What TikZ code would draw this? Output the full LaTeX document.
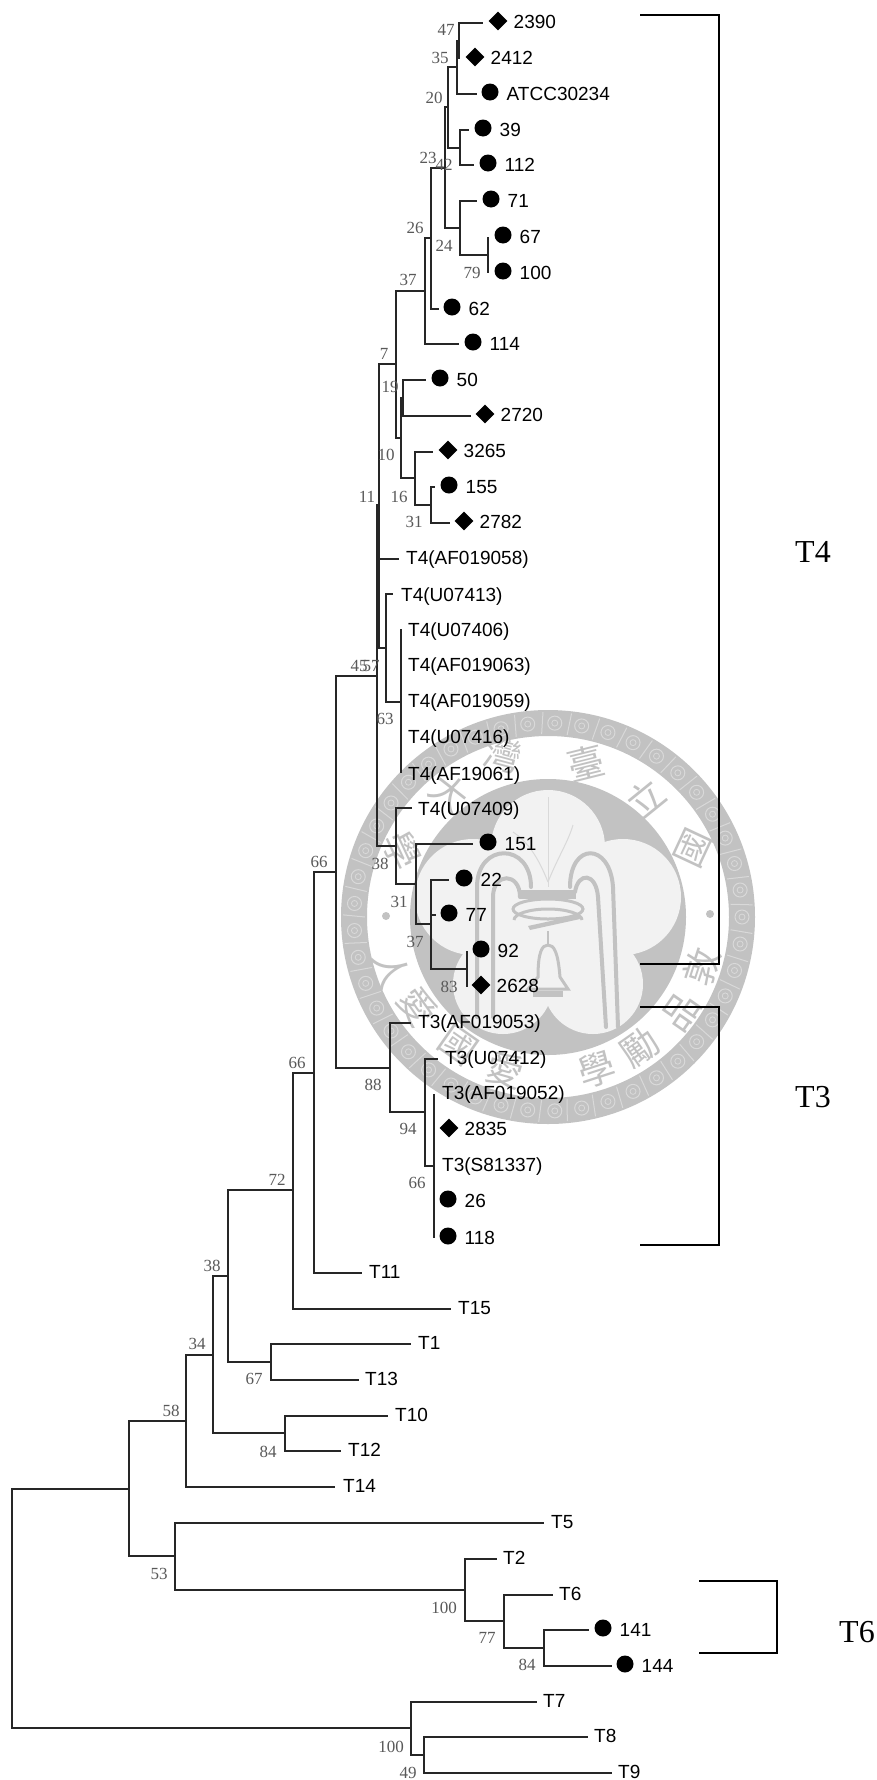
\documentclass[tikz,border=0pt]{standalone}
\usepackage{fontspec}
\setmainfont{Liberation Sans}
\newfontfamily\bootfont{Liberation Serif}
\newfontfamily\sealfont{Noto Sans CJK TC}
\usepackage{tikz}
\usetikzlibrary{calc, positioning, shapes.geometric}
\definecolor{sealgray}{gray}{0.76}
\definecolor{sealmid}{gray}{0.85}
\definecolor{seallight}{gray}{0.95}
\tikzset{
  branch/.style={line width=1.3pt, color=black!85},
  bracket/.style={line width=1.7pt, color=black},
  dotmark/.style={circle, fill=black, inner sep=0pt, minimum size=17pt},
  diamark/.style={diamond, fill=black, inner sep=0pt, minimum size=19pt},
  tiplabel/.style={anchor=west, inner sep=0pt, text height=14pt, text depth=0pt, font=\fontsize{19}{19}\selectfont},
  boot/.style={inner sep=0pt, text height=12pt, text depth=0pt, text=black!65, font=\bootfont\fontsize{17}{17}\selectfont},
  grouplabel/.style={inner sep=0pt, font=\bootfont\fontsize{32}{32}\selectfont},
  sealchar/.style={inner sep=0pt, text=sealgray, font=\sealfont\fontsize{37}{37}\selectfont},
  tube/.style={line width=4pt, color=sealgray, line cap=round},
}
\begin{document}
\begin{tikzpicture}[x=1pt, y=-1pt]
  \useasboundingbox (0,0) rectangle (877,1780);
  \fill[white] (0,0) rectangle (877,1780);

  % seal behind the tree
  \begin{scope}[shift={(548,917)}]
    \fill[sealgray, even odd rule] (0,0) circle (207) (0,0) circle (181);
    \foreach \a in {0,8,...,352} {
      \draw[sealmid, line width=1pt] (\a:194) circle (7);
      \draw[sealmid, line width=0.8pt] (\a:194) circle (3);
      \draw[sealmid, line width=1pt] ({\a+4}:183) -- ({\a+4.6}:205);
    }
    \fill[sealgray] (0,0) circle (138);
    \begin{scope}
      \clip (0,0) circle (136);
      \fill[seallight] (0,-70) circle (57) (75,-20) circle (58) (-75,-20) circle (58)
        (45,67) circle (50) (-45,67) circle (50) (0,0) circle (62);
    \end{scope}
    % tubes, plates, bell
    \draw[sealmid, line width=1pt] (0,-120) -- (0,-30);
    \draw[sealmid, line width=1pt] (0,-35) .. controls (-10,-60) and (-20,-75) .. (-35,-85);
    \draw[sealmid, line width=1pt] (0,-35) .. controls (10,-60) and (20,-75) .. (25,-92);
    \draw[tube] (-71,100) -- (-71,-30) .. controls (-71,-75) and (-17,-75) .. (-17,-30);
    \draw[tube] (-55,100) -- (-55,-20) .. controls (-55,-45) and (-28,-45) .. (-28,-20);
    \draw[tube] (70,110) -- (65,-30) .. controls (62,-75) and (22,-75) .. (22,-30);
    \draw[tube] (58,110) -- (50,-20) .. controls (48,-45) and (30,-45) .. (27,-25);
    \fill[sealgray] (-28,-27) rectangle (28,-18);
    \draw[sealgray, line width=3pt, fill=seallight] (0,-8) ellipse (35 and 10);
    \draw[sealgray, line width=3pt] (-34,3) arc (180:360:34 and 11);
    \fill[sealgray] (-20,9) -- (30,-2) -- (32,2) -- (-18,13) -- cycle;
    \draw[sealgray, line width=2pt] (0,14) -- (0,30);
    \draw[sealgray, line width=3pt, fill=seallight] (-10,60) .. controls (-10,35) and (-6,28) .. (0,28)
      .. controls (6,28) and (10,35) .. (12,60) -- (20,72) -- (-20,72) -- cycle;
    \fill[sealgray] (-15,74) rectangle (15,80);
    \fill[sealgray] (-162,-1) circle (4) (162,-3) circle (4);
  \end{scope}
  \foreach \c/\dx/\dy/\r [count=\i] in {臺/38/-154/-14, 立/97/-119/-39, 國/145/-69/-65, 灣/-45/-162/15, 大/-98/-124/38, 學/-146/-67/65,
      敦/154/50/-72, 品/133/95/-55, 勵/92/130/-35, 學/49/153/-18, 愛/-43/153/16, 國/-90/128/35, 愛/-130/90/55, 人/-156/53/72} {
    \node[sealchar, rotate=-\r] (sc\i) at ({548+\dx},{917+\dy}) {\c};
  }

  % inner joints: name/parent/x/y
  \coordinate (root) at (12,1608);
  \foreach \n/\p/\x/\y in {
      ing/root/129/1489, outg/root/411/1728, t89/outg/424/1755,
      ja/ing/186/1421, jb/ing/175/1556, jc/jb/465/1590, jd/jc/504/1621, t6g/jd/544/1648,
      je/ja/213/1355, t1012/je/285/1433, jf/je/228/1276, t113/jf/271/1362,
      jg/jf/293/1190, jh/jg/314/1073, ji/jh/336/872,
      t3g/ji/390/1068, t3a/t3g/425/1112, t3b/t3a/434/1166,
      t4g/ji/377/676, jk/t4g/379/505, jl/jk/396/364, jm/jl/425/291, jn/jm/431/238,
      jo/jn/445/168, jp/jo/448/107, jq/jp/457/67, jr/jq/459/41, js/jp/460/148,
      jt/jo/460/228, ju/jt/488/255,
      jv/jl/401/438, jw/jv/403/398, jx/jv/415/478, jy/jx/431/505,
      jz/jk/386/648, t4a/jz/401/702,
      lo/t4g/396/846, lp/lo/416/884, lq/lp/431/924, lr/lq/467/969} {
    \coordinate (\n) at (\x,\y);
    \draw[branch] (\p) |- (\n);
  }

  % strains with a dot: name/parent/x/y/dot x
  \foreach \n/\p/\x/\y/\m in {
      ATCC30234/jq/477/94/490, 39/js/469/130/483, 112/js/474/165/488, 71/jt/477/201/491,
      67/ju/488/237/503, 100/ju/488/273/503, 62/jn/439/309/452, 114/jm/459/344/473,
      50/jw/426/380/440, 155/jy/435/487/449, 151/lp/473/844/488, 22/lq/449/880/464,
      77/lq/436/915/449, 92/lr/467/951/481, 26/t3b/434/1201/448, 118/t3b/434/1238/448,
      141/t6g/589/1630/603, 144/t6g/612/1666/625} {
    \coordinate (e\n) at (\x,\y);
    \draw[branch] (\p) |- (e\n);
    \node[dotmark] (m\n) at (\m,{\y-2}) {};
    \node[tiplabel] (l\n) at ({\m+16.5},{\y-0.5}) {\n};
  }
  % strains with a diamond
  \foreach \n/\p/\x/\y/\m in {
      2390/jr/483/23/498, 2412/jr/459/59/475, 2720/jw/471/416/485, 3265/jx/433/452/448,
      2782/jy/450/523/464, 2628/lr/467/987/481, 2835/t3b/434/1130/449} {
    \coordinate (e\n) at (\x,\y);
    \draw[branch] (\p) |- (e\n);
    \node[diamark] (m\n) at (\m,{\y-2}) {};
    \node[tiplabel] (l\n) at ({\m+15.5},{\y-1.5}) {\n};
  }
  % T4 reference types: name/parent/x/y/text x/text
  \foreach \n/\p/\x/\y/\t/\s in {
      u13/jz/393/594/401/T4(U07413),
      u06/t4a/401/629/408/T4(U07406), af63/t4a/401/664/408/T4(AF019063), af59/t4a/401/700/408/T4(AF019059),
      u16/t4a/401/736/408/T4(U07416), af61/t4a/401/773/408/T4(AF19061), u09/lo/412/808/418/T4(U07409)} {
    \coordinate (e\n) at (\x,\y);
    \draw[branch] (\p) |- (e\n);
    \node[tiplabel] (l\n) at (\t,{\y+0.5}) {\s};
  }
  % other reference types
  \foreach \n/\p/\x/\y/\t/\s in {
      afa/jk/399/559/406/T4(AF019058),
      af53/t3g/411/1023/418/T3(AF019053), u12/t3a/438/1059/445/T3(U07412), af52/t3b/434/1094/442/T3(AF019052),
      s81/t3b/434/1166/442/T3(S81337), t11/jh/362/1273/369/T11, t15/jg/451/1309/458/T15,
      t1/t113/411/1344/418/T1, t13/t113/359/1380/365/T13, t10/t1012/388/1416/395/T10, t12/t1012/341/1451/348/T12,
      t14/ja/335/1487/343/T14, t5/jb/544/1523/551/T5, t2/jc/497/1559/503/T2, t6/jd/553/1595/559/T6,
      t7/outg/537/1702/543/T7, t8/t89/588/1737/594/T8, t9/t89/612/1773/618/T9} {
    \coordinate (e\n) at (\x,\y);
    \draw[branch] (\p) |- (e\n);
    \node[tiplabel] (l\n) at (\t,{\y-1.5}) {\s};
  }

  % bootstrap values
  \foreach \v/\x/\y [count=\i] in {
      47/446/29, 35/440/57, 20/434/97, 23/428/157, 42/444/164, 26/415/227, 24/444/245, 79/472/272,
      37/408/279, 7/384/353, 19/390/386, 10/386/454, 11/367/496, 16/399/496, 31/414/521,
      45/359/665, 57/371/665, 63/385/718, 66/319/861, 38/380/863, 31/399/901, 37/415/941, 83/449/986,
      66/297/1062, 88/373/1084, 94/408/1128, 66/417/1182, 72/277/1179, 38/212/1265, 34/197/1343, 67/254/1378,
      58/171/1410, 84/268/1451, 53/159/1573, 100/444/1607, 77/487/1637, 84/527/1664, 100/391/1746, 49/408/1772} {
    \node[boot] (b\i) at (\x,\y) {\v};
  }

  % type brackets
  \draw[bracket] (640,15) -| (719,964) -- (640,964);
  \draw[bracket] (640,1007) -| (719,1245) -- (640,1245);
  \draw[bracket] (699,1581) -| (777,1653) -- (699,1653);
  \node[grouplabel] (g4) at (813,552) {T4};
  \node[grouplabel] (g3) at (813,1097) {T3};
  \node[grouplabel] (g6) at (857,1632) {T6};
\end{tikzpicture}
\end{document}
